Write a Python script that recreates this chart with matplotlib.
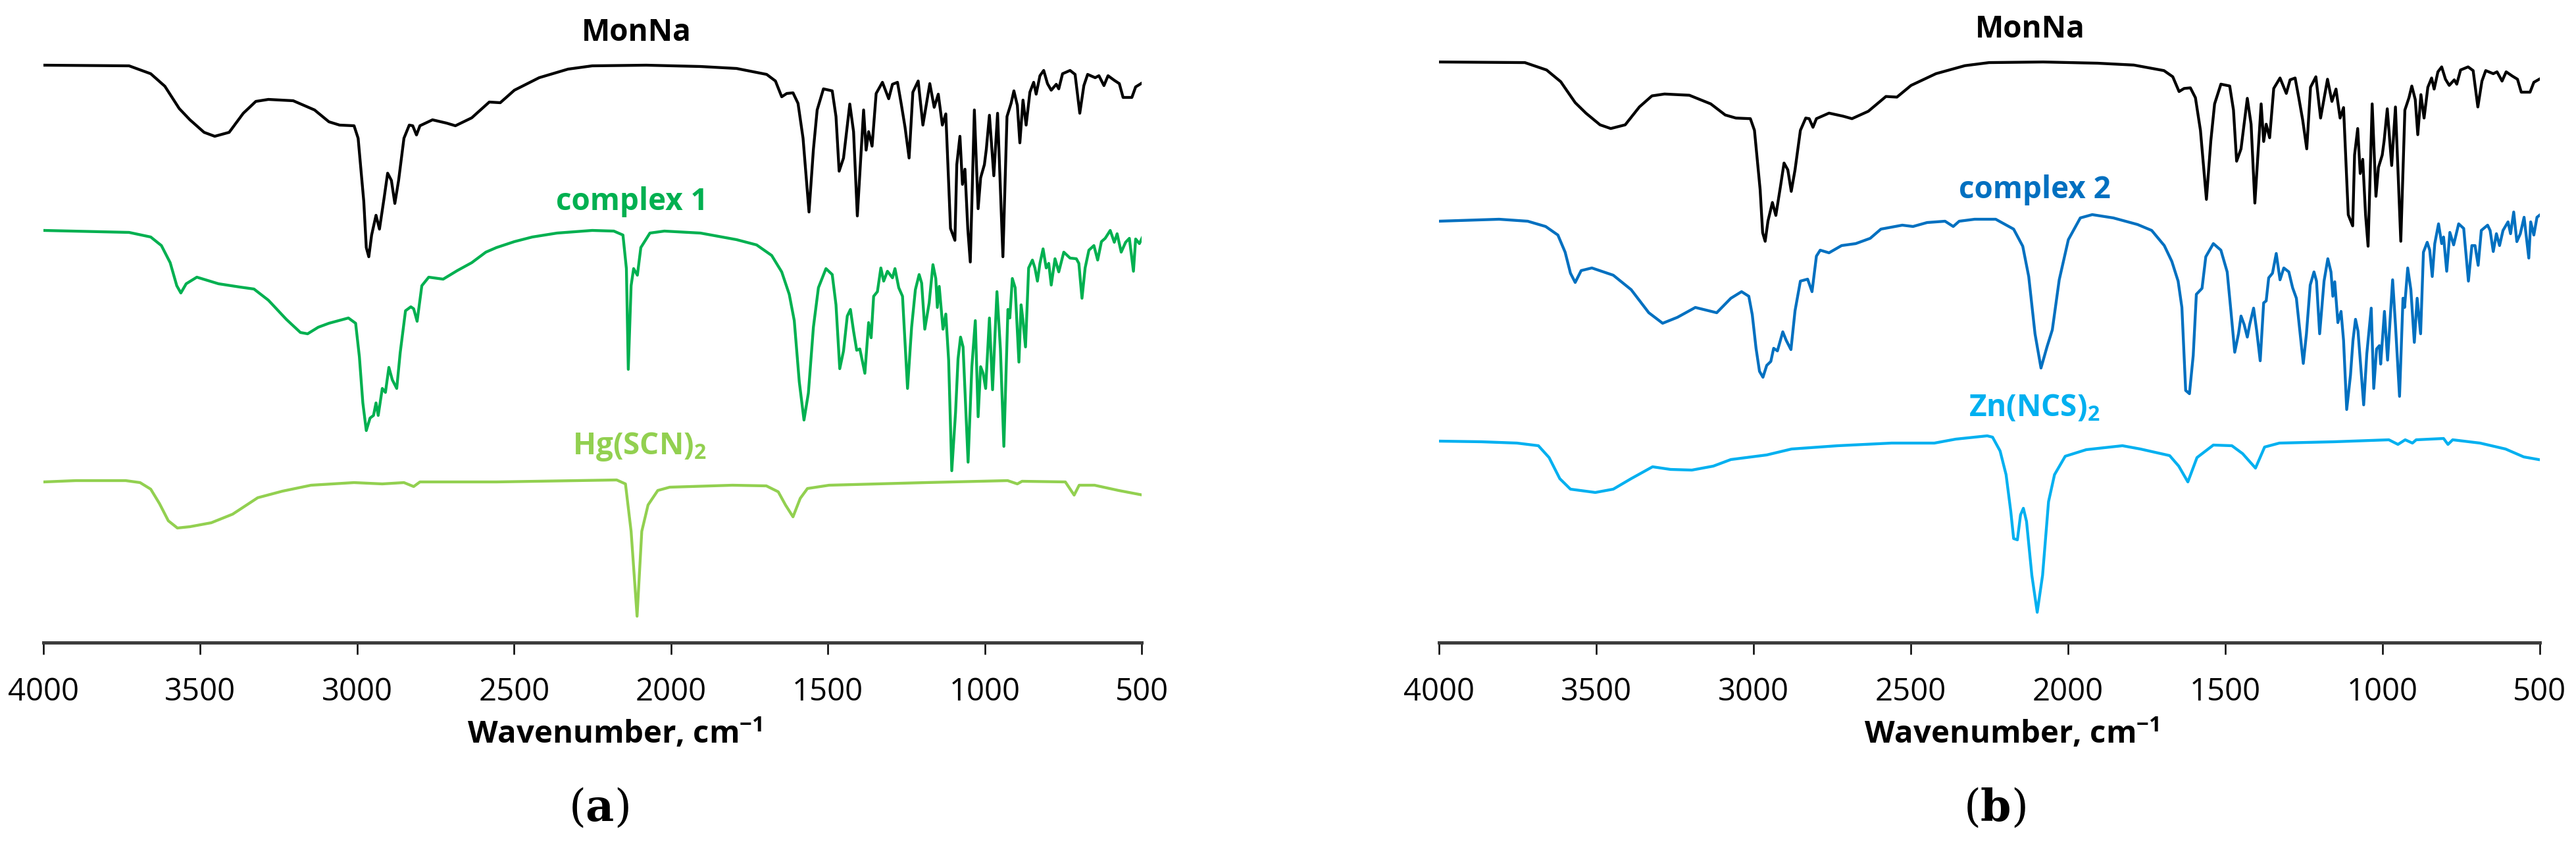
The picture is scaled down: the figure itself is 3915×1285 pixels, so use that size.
import matplotlib
matplotlib.use("Agg")
import matplotlib.pyplot as plt

plt.rcParams['font.family'] = ['Open Sans', 'DejaVu Sans']
plt.rcParams['mathtext.fontset'] = 'custom'
plt.rcParams['mathtext.rm'] = 'Open Sans'
plt.rcParams['mathtext.bf'] = 'Open Sans:bold'

# IR spectra. values are offset transmittance (arb. units)
ticks = [4000, 3500, 3000, 2500, 2000, 1500, 1000, 500]

monna_wn = [3999, 3727, 3658, 3613, 3567, 3533, 3488, 3454, 3408, 3363, 3323, 3283, 3204, 3136, 3090,
            3056, 3010, 2997, 2988, 2979, 2971, 2963, 2954, 2940, 2929, 2914, 2903, 2891, 2880, 2868,
            2851, 2834, 2823, 2811, 2800, 2760, 2715, 2687, 2635, 2579, 2544, 2499, 2420, 2328, 2251,
            2079, 1906, 1791, 1727, 1695, 1667, 1647, 1631, 1611, 1595, 1579, 1560, 1546, 1534, 1514,
            1486, 1474, 1464, 1450, 1430, 1418, 1406, 1386, 1378, 1370, 1359, 1346, 1326, 1306, 1294,
            1278, 1266, 1254, 1241, 1229, 1212, 1197, 1175, 1161, 1148, 1135, 1124, 1109, 1095, 1089,
            1079, 1071, 1063, 1054, 1046, 1033, 1021, 1013, 1001, 995, 985, 971, 959, 942, 929,
            916, 907, 896, 888, 878, 868, 856, 844, 836, 824, 812, 800, 788, 772, 764,
            752, 728, 712, 697, 684, 672, 648, 636, 620, 607, 587, 571, 559, 531, 519, 495]
monna_t = [877, 876, 864, 845, 811, 794, 775, 769, 775, 804, 822, 825, 823, 809, 791,
           786, 785, 766, 718, 670, 600, 586, 619, 649, 628, 676, 713, 702, 667, 702,
           766, 786, 785, 771, 785, 794, 789, 785, 797, 821, 820, 839, 858, 871, 876,
           877, 875, 872, 866, 863, 853, 829, 834, 835, 819, 766, 654, 749, 809, 841,
           838, 799, 716, 736, 818, 776, 648, 809, 748, 776, 754, 834, 851, 826, 848,
           851, 818, 783, 736, 836, 853, 786, 849, 813, 833, 786, 803, 629, 611, 726,
           769, 696, 719, 629, 578, 809, 659, 706, 726, 749, 801, 709, 804, 586, 799,
           819, 838, 816, 759, 824, 786, 836, 851, 833, 861, 869, 849, 839, 848, 841,
           864, 869, 863, 804, 846, 863, 858, 861, 846, 861, 854, 849, 828, 828, 844, 851]

complex1_wn = [3999, 3727, 3658, 3624, 3596, 3575, 3562, 3545, 3511, 3442, 3374, 3329, 3283, 3226, 3181,
               3158, 3124, 3090, 3028, 3005, 2993, 2982, 2971, 2959, 2948, 2940, 2933, 2920, 2910, 2899,
               2888, 2874, 2863, 2846, 2829, 2820, 2809, 2794, 2772, 2726, 2681, 2635, 2590, 2556, 2499,
               2442, 2363, 2251, 2182, 2153, 2142, 2136, 2127, 2119, 2107, 2096, 2067, 2021, 1906, 1791,
               1727, 1679, 1647, 1623, 1607, 1591, 1576, 1562, 1546, 1530, 1506, 1486, 1474, 1462, 1450,
               1438, 1428, 1418, 1408, 1398, 1382, 1370, 1362, 1354, 1342, 1331, 1322, 1310, 1294, 1286,
               1274, 1262, 1246, 1233, 1221, 1209, 1201, 1191, 1177, 1165, 1156, 1151, 1145, 1133, 1124,
               1115, 1105, 1093, 1085, 1077, 1069, 1053, 1041, 1030, 1021, 1013, 1005, 997, 985, 975,
               961, 950, 939, 926, 920, 912, 903, 891, 884, 878, 870, 860, 848, 840, 832,
               824, 814, 804, 796, 788, 776, 764, 748, 728, 708, 700, 690, 680, 668, 652,
               640, 628, 616, 600, 587, 578, 565, 551, 539, 526, 519, 507, 495]
complex1_t = [626, 623, 616, 603, 577, 542, 531, 545, 555, 545, 540, 537, 520, 491, 471,
              469, 479, 485, 493, 485, 434, 364, 322, 341, 345, 364, 345, 386, 380, 418,
              399, 386, 440, 504, 510, 507, 488, 542, 555, 552, 565, 577, 593, 600, 609,
              616, 622, 626, 625, 619, 568, 415, 542, 568, 558, 600, 622, 625, 622, 612,
              604, 588, 563, 529, 489, 396, 338, 379, 479, 539, 568, 559, 513, 416, 443,
              496, 506, 473, 444, 446, 409, 486, 463, 526, 533, 569, 549, 564, 554, 568,
              539, 526, 386, 479, 536, 559, 546, 476, 516, 574, 553, 509, 541, 476, 499,
              429, 261, 349, 431, 464, 449, 274, 419, 489, 343, 419, 409, 386, 493, 384,
              533, 446, 298, 506, 493, 553, 539, 426, 513, 489, 449, 569, 581, 569, 549,
              576, 598, 569, 576, 543, 583, 563, 593, 584, 583, 576, 523, 569, 596, 603,
              581, 609, 614, 626, 608, 621, 593, 608, 614, 564, 613, 606, 618]

hgscn_wn = [3999, 3897, 3806, 3738, 3692, 3658, 3630, 3602, 3573, 3533, 3465, 3397, 3317, 3238, 3147,
            3010, 2920, 2851, 2820, 2800, 2556, 2173, 2145, 2127, 2108, 2093, 2073, 2042, 2004, 1804,
            1696, 1658, 1635, 1611, 1588, 1565, 1496, 1189, 927, 896, 881, 743, 715, 699, 650,
            573, 496]
hgscn_t = [244, 246, 246, 246, 243, 233, 211, 185, 174, 176, 182, 195, 220, 230, 239,
           243, 241, 243, 237, 244, 244, 247, 241, 169, 40, 169, 209, 231, 236, 239,
           238, 229, 209, 191, 219, 234, 239, 243, 246, 241, 245, 244, 224, 239, 239,
           231, 224]

complex2_wn = [4002, 3809, 3718, 3661, 3622, 3599, 3582, 3567, 3548, 3514, 3446, 3389, 3333, 3289, 3242,
               3185, 3151, 3117, 3072, 3038, 3015, 3004, 2992, 2981, 2970, 2958, 2945, 2936, 2924, 2907,
               2896, 2881, 2868, 2851, 2828, 2814, 2800, 2788, 2760, 2720, 2675, 2629, 2595, 2527, 2493,
               2448, 2391, 2365, 2346, 2297, 2230, 2173, 2144, 2125, 2105, 2086, 2067, 2050, 2028, 1999,
               1961, 1923, 1856, 1779, 1734, 1694, 1670, 1650, 1638, 1626, 1614, 1602, 1592, 1574, 1562,
               1538, 1514, 1494, 1482, 1470, 1458, 1450, 1440, 1430, 1422, 1410, 1400, 1389, 1378, 1370,
               1362, 1350, 1338, 1326, 1314, 1298, 1286, 1274, 1262, 1252, 1242, 1230, 1218, 1210, 1200,
               1186, 1174, 1164, 1158, 1152, 1142, 1132, 1124, 1114, 1102, 1094, 1086, 1078, 1060, 1050,
               1036, 1028, 1019, 1010, 1006, 994, 984, 968, 959, 946, 935, 930, 920, 910, 899,
               890, 879, 870, 858, 850, 842, 834, 822, 812, 806, 796, 786, 774, 758, 742,
               727, 716, 706, 696, 686, 666, 658, 648, 638, 628, 617, 601, 593, 583, 573,
               562, 550, 535, 529, 519, 509, 501]
complex2_t = [640, 643, 640, 632, 619, 593, 561, 547, 565, 569, 558, 536, 501, 485, 494,
              509, 505, 501, 523, 533, 526, 498, 447, 412, 403, 421, 427, 447, 443, 472,
              459, 445, 504, 549, 552, 533, 587, 596, 592, 603, 606, 614, 628, 634, 632,
              638, 640, 632, 640, 643, 643, 628, 602, 556, 469, 417, 449, 475, 551, 612,
              645, 650, 645, 635, 626, 603, 579, 549, 509, 383, 378, 436, 529, 538, 586,
              606, 596, 563, 503, 441, 469, 496, 483, 464, 484, 508, 473, 428, 516, 519,
              554, 561, 591, 551, 569, 563, 539, 523, 469, 424, 469, 543, 563, 549, 469,
              549, 583, 563, 526, 548, 486, 503, 459, 354, 406, 459, 491, 473, 361, 439,
              508, 386, 446, 451, 423, 503, 429, 551, 483, 374, 523, 509, 569, 536, 456,
              523, 469, 593, 608, 596, 556, 606, 636, 606, 616, 564, 623, 604, 636, 629,
              549, 603, 603, 573, 626, 634, 626, 594, 621, 603, 626, 639, 621, 654, 609,
              621, 646, 584, 639, 619, 646, 649]

zncs_wn = [4002, 3865, 3752, 3684, 3650, 3616, 3582, 3503, 3446, 3389, 3321, 3264, 3196, 3128, 3072,
           2958, 2879, 2732, 2561, 2425, 2357, 2257, 2240, 2216, 2197, 2182, 2173, 2161, 2151, 2142,
           2132, 2115, 2098, 2081, 2062, 2043, 2009, 1942, 1827, 1770, 1677, 1648, 1619, 1590, 1538,
           1479, 1445, 1404, 1375, 1328, 1154, 980, 951, 928, 905, 893, 806, 792, 777, 690,
           609, 551, 504]
zncs_t = [306, 305, 303, 299, 281, 249, 233, 228, 233, 249, 267, 263, 262, 268, 278,
          285, 294, 299, 303, 303, 309, 314, 312, 291, 255, 199, 158, 156, 194, 204,
          184, 102, 46, 102, 214, 255, 283, 293, 299, 294, 284, 268, 244, 281, 300,
          299, 287, 265, 297, 303, 305, 308, 301, 308, 303, 308, 310, 301, 308, 303,
          294, 282, 278]

# MonNa is drawn a little compressed in panel (b)
monna_b_scale = 0.936
monna_b_shift = 61

W, H = 3915, 1285
fig = plt.figure(figsize=(W / 100, H / 100), dpi=100)
ax_a = fig.add_axes([66 / W, 1 - 976 / H, 1669 / W, 976 / H])
ax_b = fig.add_axes([2187 / W, 1 - 976 / H, 1673 / W, 976 / H])

lw = 3.1
ax_a.plot(monna_wn, monna_t, color='black', lw=lw)
ax_a.plot(complex1_wn, complex1_t, color='#00B050', lw=lw)
ax_a.plot(hgscn_wn, hgscn_t, color='#92D050', lw=lw)

monna_b = [monna_b_scale * v + monna_b_shift for v in monna_t]
ax_b.plot(monna_wn, monna_b, color='black', lw=lw)
ax_b.plot(complex2_wn, complex2_t, color='#0070C0', lw=lw)
ax_b.plot(zncs_wn, zncs_t, color='#00B0F0', lw=lw)

lab = dict(fontsize=33, fontweight='bold', ha='center', va='baseline')
ax_a.text(2109, 914, "MonNa", color='black', **lab)
ax_a.text(2125, 657, "complex 1", color='#00B050', **lab)
ax_a.text(2100, 286, r"Hg(SCN)$_\mathbf{2}$", color='#92D050', **lab)
ax_b.text(2121, 919, "MonNa", color='black', **lab)
ax_b.text(2105, 675, "complex 2", color='#0070C0', **lab)
ax_b.text(2107, 344, r"Zn(NCS)$_\mathbf{2}$", color='#00B0F0', **lab)

for ax in (ax_a, ax_b):
    ax.set_xlim(4000, 500)
    ax.set_ylim(0, 976)
    for s in ('top', 'left', 'right'):
        ax.spines[s].set_visible(False)
    ax.spines['bottom'].set_linewidth(3.6)
    ax.spines['bottom'].set_color('#3c3c3c')
    ax.set_xticks(ticks)
    ax.set_yticks([])
    ax.tick_params(axis='x', direction='out', length=13, width=1.8, pad=24,
                   labelsize=34, colors='black')
    ax.set_xlabel(r"Wavenumber, cm$^{\mathbf{-1}}$", fontsize=34, fontweight='bold')
    ax.xaxis.set_label_coords(0.52, -0.1158)
    ax.patch.set_alpha(0)

fig.text(910 / W, 1 - 1247 / H, r"($\mathbf{a}$)", family='DejaVu Serif',
         math_fontfamily='dejavuserif', fontsize=48, ha='center', va='baseline')
fig.text(3032 / W, 1 - 1247 / H, r"($\mathbf{b}$)", family='DejaVu Serif',
         math_fontfamily='dejavuserif', fontsize=48, ha='center', va='baseline')

fig.savefig("out.png", dpi=100)
